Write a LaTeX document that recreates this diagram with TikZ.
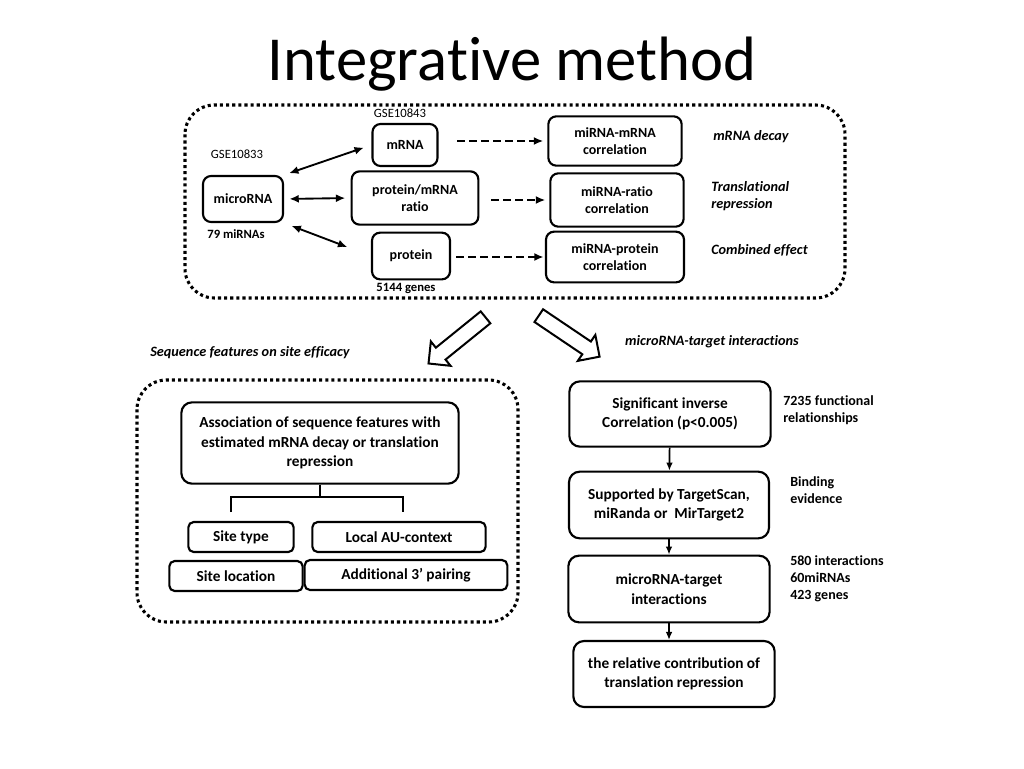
\documentclass[tikz,border=0pt]{standalone}
\usepackage{fontspec}
\setmainfont{Carlito}[Ligatures={NoCommon}]
\usetikzlibrary{shapes.arrows,arrows.meta}

\tikzset{
 box/.style={draw, rounded corners=6pt, line width=1.6pt, align=center, inner sep=2pt,
  font=\bfseries\fontsize{10.5}{12.75}\selectfont},
 bigbox/.style={box, rounded corners=8pt, font=\bfseries\fontsize{11.5}{14.5}\selectfont},
 note/.style={font=\bfseries\fontsize{9.5}{12.75}\selectfont, align=left, inner sep=0pt},
 rnote/.style={note, font=\bfseries\fontsize{10.5}{12.75}\selectfont},
 tag/.style={font=\itshape\bfseries\fontsize{10.7}{12.75}\selectfont, align=left, inner sep=0pt},
 dotbox/.style={line width=2.3pt, dash pattern=on 2.3pt off 2.3pt, rounded corners=22pt},
 dbl/.style={{Latex[length=7pt,width=6pt]}-{Latex[length=7pt,width=6pt]}, line width=1.4pt},
 dsh/.style={-{Latex[length=7pt,width=6pt]}, line width=1.5pt, dash pattern=on 6pt off 3pt},
 flow/.style={-{Latex[length=6pt,width=5pt]}, line width=1.3pt},
 hollow/.style={single arrow, draw, line width=1.5pt, minimum height=55pt, inner sep=5pt,
  single arrow head extend=6pt}
}

\begin{document}
\begin{tikzpicture}[x=0.75pt,y=-0.75pt]
 \useasboundingbox (0,0) rectangle (1024,768);

 \node (title) at (512,64) {\fontsize{47}{52}\selectfont Integrative method};

 % top part
 \draw[dotbox] (185,105) rectangle (845,298);
 \node[box, minimum width=60pt, minimum height=34.5pt] (micro) at (243,199) {microRNA};
 \node[box, minimum width=48.75pt, minimum height=31.5pt] (mrna) at (405,145) {mRNA};
 \node[box, minimum width=95pt, minimum height=40pt] (ratio) at (415,198) {protein/mRNA\\ratio};
 \node[box, minimum width=58.5pt, minimum height=35pt] (prot) at (411,256) {protein};
 \node[box, minimum width=100pt, minimum height=37pt] (corra) at (615,141) {miRNA-mRNA\\correlation};
 \node[box, minimum width=100pt, minimum height=40pt] (corrb) at (617,200) {miRNA-ratio\\correlation};
 \node[box, minimum width=103.5pt, minimum height=38pt] (corrc) at (615,257) {miRNA-protein\\correlation};

 \node[font=\fontsize{9.5}{11}\selectfont, inner sep=0pt] (gsea) at (400,113) {GSE10843};
 \node[font=\fontsize{9.5}{11}\selectfont, inner sep=0pt] (gseb) at (237,154) {GSE10833};
 \node[note] (nmir) at (236,234) {79 miRNAs};
 \node[note] (ngen) at (406,288) {5144 genes};

 \node[tag, anchor=west] (decay) at (713,137) {mRNA decay};
 \node[tag, anchor=west] (trans) at (711,196) {Translational\\repression};
 \node[tag, anchor=west] (comb) at (711,250) {Combined effect};

 \draw[dbl, shorten <=4pt, shorten >=6pt] (micro.north east) -- (mrna.west);
 \draw[dbl, shorten <=4pt, shorten >=4pt] (micro.east) -- (ratio.west);
 \draw[dbl, shorten <=6pt, shorten >=19pt] (micro.south east) -- (prot.west);

 \draw[dsh, shorten <=14pt, shorten >=3pt] (mrna.east |- corra.west) -- (corra.west);
 \draw[dsh, shorten <=9pt, shorten >=3pt] (ratio.east |- corrb.west) -- (corrb.west);
 \draw[dsh, shorten <=4pt, shorten >=1pt] (prot.east |- corrc.west) -- (corrc.west);

 % the two ways down
 \node[hollow, rotate=219] (arrl) at (460,338) {};
 \node[hollow, rotate=-34] (arrr) at (566,334) {};
 \node[tag] (seqf) at (250,353) {Sequence features on site efficacy};
 \node[tag] (mtint) at (712,342) {microRNA-target interactions};

 % bottom left
 \draw[dotbox] (137,380) rectangle (518,622);
 \node[bigbox, minimum width=208pt, minimum height=61pt] (assoc) at (320,443)
  {Association of sequence features with\\estimated mRNA decay or translation\\repression};
 \node[bigbox, rounded corners=4pt, minimum width=79pt, minimum height=22.5pt] (stype) at (241,537) {Site type};
 \node[bigbox, rounded corners=4pt, minimum width=130pt, minimum height=22.5pt] (auctx) at (399,537) {Local AU-context};
 \node[bigbox, rounded corners=4pt, minimum width=100pt, minimum height=22.5pt] (sloc) at (236,576) {Site location};
 \node[bigbox, rounded corners=4pt, minimum width=152pt, minimum height=22.5pt] (pair) at (406,575) {Additional 3’ pairing};
 \draw[line width=1.6pt] (assoc.south) -- ++(0,13) coordinate (brk);
 \draw[line width=1.6pt] (231,512) -- (231,497) -- (403,497) -- (403,512);

 % bottom right
 \node[bigbox, minimum width=151pt, minimum height=49pt] (sig) at (670,414) {Significant inverse\\Correlation (p<0.005)};
 \node[bigbox, minimum width=150pt, minimum height=50pt] (supp) at (669,505) {Supported by TargetScan,\\miRanda or~~MirTarget2};
 \node[bigbox, minimum width=151pt, minimum height=50pt] (mti) at (669,589) {microRNA-target\\interactions};
 \node[bigbox, minimum width=151pt, minimum height=49.5pt] (rel) at (674,674) {the relative contribution of\\translation repression};
 \draw[flow] (sig) -- (supp);
 \draw[flow] (supp) -- (mti);
 \draw[flow] (mti.south) -- (mti.south |- rel.north);

 \node[rnote, anchor=west] (nfun) at (783,410) {7235 functional\\relationships};
 \node[rnote, anchor=west] (nbind) at (790,490) {Binding\\evidence};
 \node[rnote, anchor=west] (nint) at (790,579) {580 interactions\\60miRNAs\\423 genes};
\end{tikzpicture}
\end{document}
